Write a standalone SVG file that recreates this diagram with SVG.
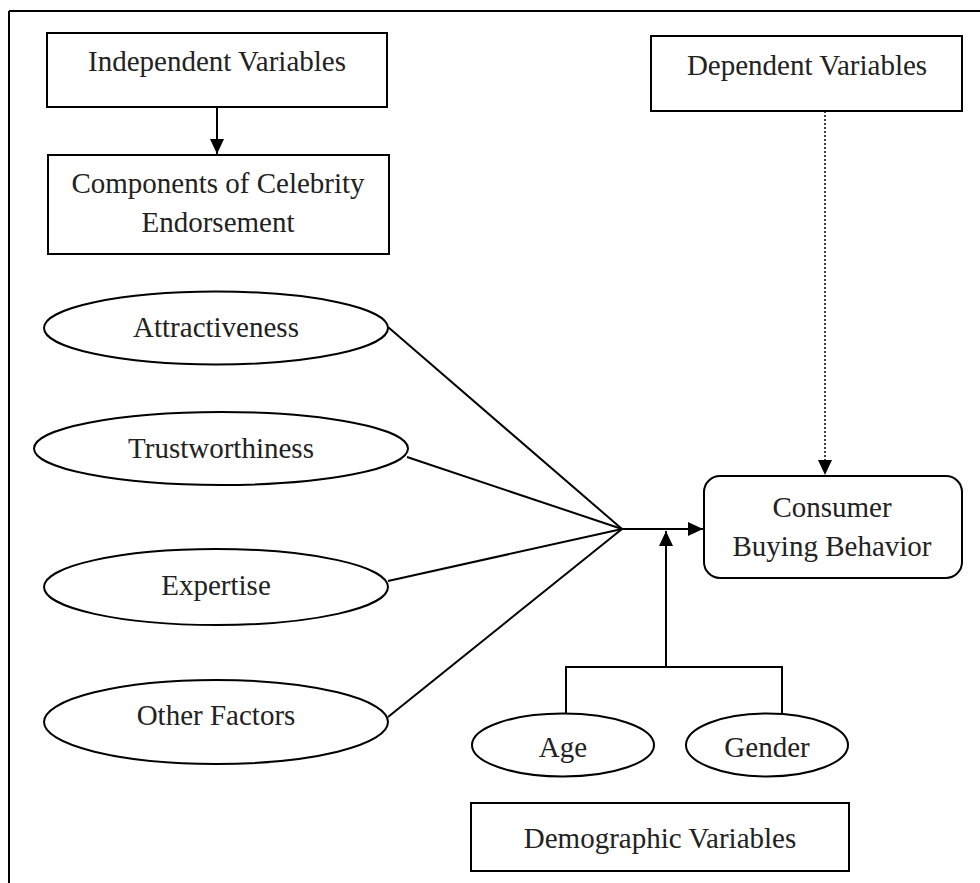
<svg xmlns="http://www.w3.org/2000/svg" width="980" height="883" viewBox="0 0 980 883">
<style>
.box{fill:#fff;stroke:#000;stroke-width:2}
.ell{fill:#fff;stroke:#000;stroke-width:2}
.t{font-family:"Liberation Serif","Times New Roman",serif;font-size:29px;fill:#222;text-anchor:middle}
.ln{fill:none;stroke:#000;stroke-width:2}
.dot{fill:none;stroke:#000;stroke-width:1.5;stroke-dasharray:2 2}
</style>
<defs>
<marker id="ah" markerUnits="userSpaceOnUse" markerWidth="16" markerHeight="14" refX="15" refY="7" orient="auto">
<path d="M0,0 L15,7 L0,14 Z" fill="#000"/>
</marker>
</defs>
<g id="frame">
<line x1="9" y1="11" x2="980" y2="11" class="ln"/>
<line x1="9" y1="11" x2="9" y2="883" class="ln"/>
</g>
<g id="connectors">
<line x1="217" y1="107" x2="217" y2="154" class="ln" marker-end="url(#ah)"/>
<line x1="825" y1="111" x2="825" y2="475" class="dot" marker-end="url(#ah)"/>
<line x1="388" y1="327" x2="622" y2="529" class="ln"/>
<line x1="407" y1="457" x2="622" y2="529" class="ln"/>
<line x1="388" y1="581" x2="622" y2="529" class="ln"/>
<line x1="388" y1="717" x2="622" y2="529" class="ln"/>
<line x1="622" y1="529" x2="703" y2="529" class="ln" marker-end="url(#ah)"/>
<line x1="666" y1="667" x2="666" y2="531" class="ln" marker-end="url(#ah)"/>
<polyline points="566,714 566,667 782,667 782,714" class="ln"/>
</g>
<g id="independent">
<rect x="47" y="33" width="340" height="74" class="box"/>
<text x="217" y="71" class="t">Independent Variables</text>
</g>
<g id="components">
<rect x="48" y="155" width="341" height="99" class="box"/>
<text x="218" y="193" class="t">Components of Celebrity</text>
<text x="218" y="232" class="t">Endorsement</text>
</g>
<g id="dependent">
<rect x="651" y="36" width="311" height="75" class="box"/>
<text x="807" y="75" class="t">Dependent Variables</text>
</g>
<g id="consumer">
<rect x="704" y="476" width="258" height="102" rx="16" class="box"/>
<text x="832" y="517" class="t">Consumer</text>
<text x="832" y="556" class="t">Buying Behavior</text>
</g>
<g id="attractiveness">
<ellipse cx="216" cy="328" rx="172" ry="36.5" class="ell"/>
<text x="216" y="337" class="t">Attractiveness</text>
</g>
<g id="trustworthiness">
<ellipse cx="221" cy="448.5" rx="187" ry="36.5" class="ell"/>
<text x="221" y="458" class="t">Trustworthiness</text>
</g>
<g id="expertise">
<ellipse cx="216" cy="587" rx="172" ry="38" class="ell"/>
<text x="216" y="595" class="t">Expertise</text>
</g>
<g id="other">
<ellipse cx="216" cy="722" rx="172" ry="42" class="ell"/>
<text x="216" y="725" class="t">Other Factors</text>
</g>
<g id="age">
<ellipse cx="563" cy="745" rx="91" ry="31.5" class="ell"/>
<text x="563" y="757" class="t">Age</text>
</g>
<g id="gender">
<ellipse cx="767" cy="745" rx="81" ry="31.5" class="ell"/>
<text x="767" y="757" class="t">Gender</text>
</g>
<g id="demographic">
<rect x="471" y="803" width="378" height="68" class="box"/>
<text x="660" y="848" class="t">Demographic Variables</text>
</g>
</svg>
